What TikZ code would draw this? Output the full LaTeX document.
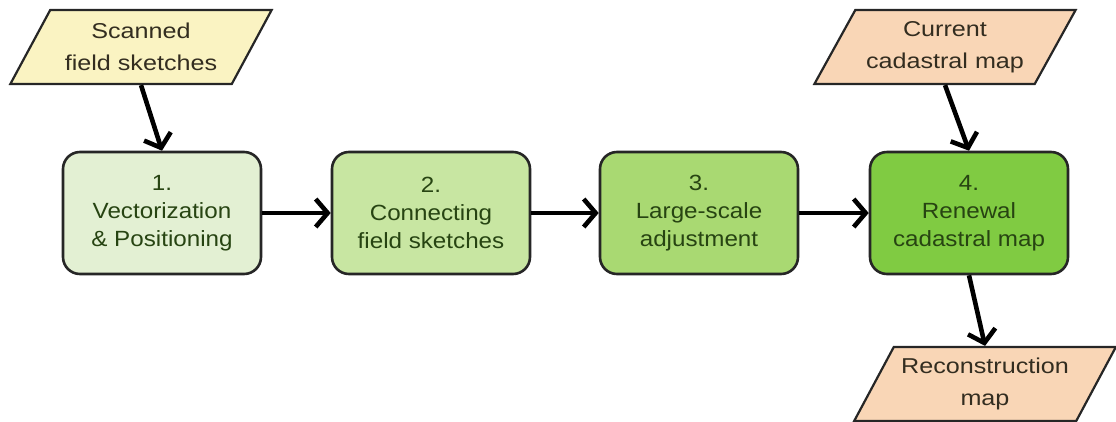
\documentclass[tikz,border=0pt]{standalone}
\usepackage{fontspec}
\setmainfont[FakeStretch=1.1]{Liberation Sans}
\newfontfamily\parafont[FakeStretch=1.17]{Liberation Sans}
\usetikzlibrary{arrows.meta,shapes.geometric}
\definecolor{yel}{HTML}{FAF3C2}
\definecolor{peach}{HTML}{F9D6B6}
\definecolor{gA}{HTML}{E3F0D3}
\definecolor{gB}{HTML}{C8E6A2}
\definecolor{gC}{HTML}{A9D972}
\definecolor{gD}{HTML}{80CB42}
\definecolor{gtext}{HTML}{274412}
\definecolor{ptext}{HTML}{332D20}
\tikzset{
  stepbox/.style={draw=black!85, line width=2.6pt, rounded corners=17pt,
    minimum width=198pt, minimum height=122pt, align=center, text=gtext,
    font=\fontsize{22}{28}\selectfont},
  para/.style={trapezium, trapezium left angle=55, trapezium right angle=125,
    trapezium stretches=true, draw=black!85, line width=2.2pt,
    minimum width=262pt, minimum height=74pt, align=center, text=ptext,
    font=\parafont\fontsize{21.5}{32}\selectfont, inner sep=0pt},
  flow/.style={line width=4.6pt, -{Straight Barb[length=12pt,width=28pt,line width=4.6pt]}}
}
\begin{document}
\begin{tikzpicture}[x=1pt,y=-1pt]
\useasboundingbox (0,0) rectangle (1116,421);
\node[para, fill=yel] (scan) at (141,47) {Scanned\\field sketches};
\node[para, fill=peach] (cur) at (945,47) {Current\\cadastral map};
\node[para, fill=peach] (rec) at (985,384) {Reconstruction\\map};
\node[stepbox, fill=gA] (s1) at (162,213) {1.\\Vectorization\\\& Positioning};
\node[stepbox, fill=gB] (s2) at (431,213) {2.\\Connecting\\field sketches};
\node[stepbox, fill=gC] (s3) at (699,213) {3.\\Large-scale\\adjustment};
\node[stepbox, fill=gD] (s4) at (969,213) {4.\\Renewal\\cadastral map};
\draw[flow] (scan.south) -- (s1.north);
\draw[flow] (cur.south) -- (s4.north);
\draw[flow] (s4.south) -- (rec.north);
\draw[flow] (s1) -- (s2);
\draw[flow] (s2) -- (s3);
\draw[flow] (s3) -- (s4);
\end{tikzpicture}
\end{document}
